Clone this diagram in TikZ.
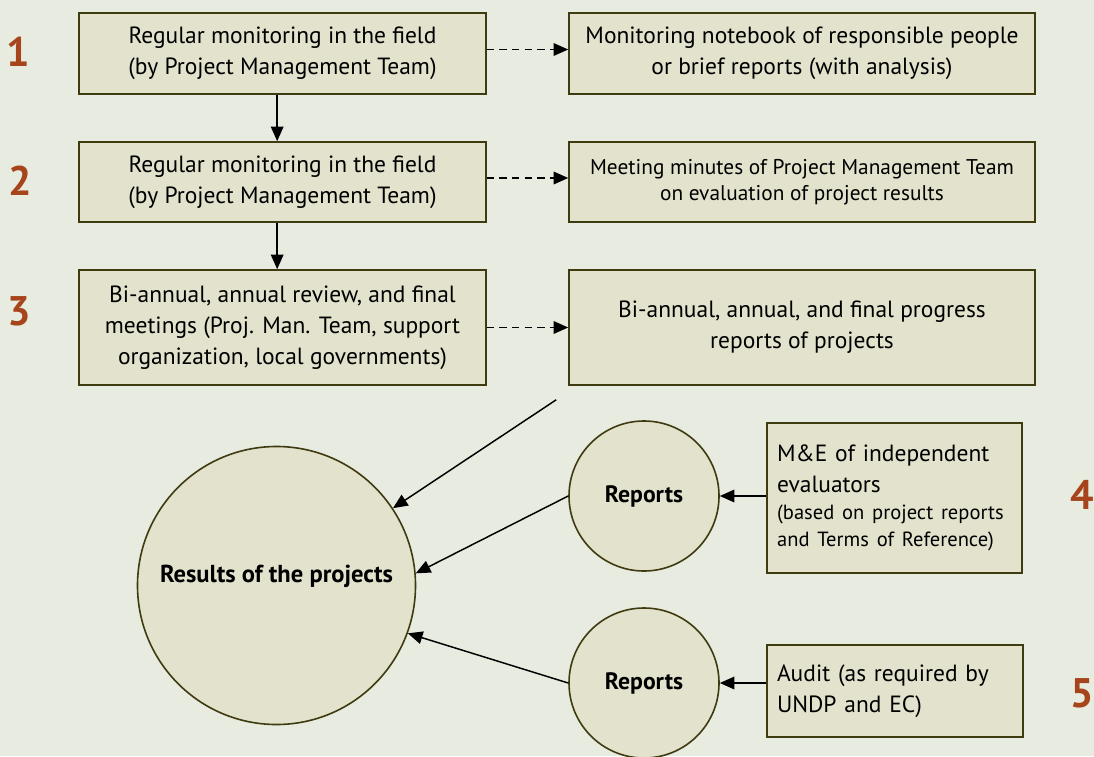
\documentclass[tikz,border=0pt]{standalone}
\usepackage{fontspec}
\setmainfont{PT Sans}
\usetikzlibrary{arrows.meta}
\definecolor{bgcol}{HTML}{E8EBE0}
\definecolor{boxfill}{HTML}{E3E2CC}
\definecolor{boxline}{HTML}{3E3B10}
\definecolor{numcol}{HTML}{A6441B}
\begin{document}
\begin{tikzpicture}[x=0.75pt,y=-0.75pt,line width=1.1pt,>={Triangle[length=11pt,width=9.5pt]},
		font=\fontsize{17.6}{23.25}\selectfont,
		box/.style={draw=boxline,fill=boxfill,line width=1.2pt,inner sep=0pt,align=center},
		lbox/.style={box,minimum width=305.25pt},
		rbox/.style={box,minimum width=349.5pt},
		disc/.style={circle,draw=boxline,fill=boxfill,line width=1.2pt,inner sep=0pt,font=\fontsize{17.8}{23.25}\selectfont\bfseries},
		num/.style={text=numcol,font=\fontsize{31}{31}\selectfont\bfseries}]
		\useasboundingbox (0,0) rectangle (1094,756);
		\fill[bgcol] (0,0) rectangle (1094,756);
		% monitoring steps
		\node[lbox,minimum height=60.75pt] (b1) at (282.5,53.5) {Regular monitoring in the field\\(by Project Management Team)};
		\node[lbox,minimum height=60pt] (b2) at (282.5,182) {Regular monitoring in the field\\(by Project Management Team)};
		\node[lbox,minimum height=86.25pt] (b3) at (282.5,327.5) {Bi-annual, annual review, and final\\meetings (Proj. Man. Team, support\\organization, local governments)};
		% what each step produces
		\node[rbox,minimum height=60.75pt] (r1) at (802,53.5) {Monitoring notebook of responsible people\\or brief reports (with analysis)};
		\node[rbox,minimum height=60pt,font=\fontsize{16}{19.5}\selectfont] (r2) at (802,182) {Meeting minutes of Project Management Team\\on evaluation of project results};
		\node[rbox,minimum height=86.25pt] (r3) at (802,327.5) {Bi-annual, annual, and final progress\\reports of projects};
		% results and outside reports
		\node[disc,minimum size=208.5pt,label={[yshift=7pt,font=\fontsize{18.4}{23.25}\selectfont\bfseries]center:Results of the projects}] (res) at (276.5,585.5) {};
		\node[disc,minimum size=112.5pt] (rep1) at (644,496) {Reports};
		\node[disc,minimum size=112.5pt] (rep2) at (644,683) {Reports};
		\node[box,align=left,text width=176pt,inner xsep=7.5pt,minimum height=112.5pt] (e1) at (894.5,498) {M\&E of independent\\evaluators\par
			{\fontsize{15.4}{20.25}\selectfont(based on project reports\\and Terms of Reference)\par}};
		\node[box,align=left,text width=177pt,inner xsep=7.5pt,minimum height=69pt] (e2) at (895,691) {Audit (as required by\\UNDP and EC)};
		\foreach \n/\x/\y in {1/18/52,2/20/181,3/19/311,4/1082/495,5/1082/693}
		\node[num] (n\n) at (\x,\y) {\n};
		% arrows
		\draw[->] ([xshift=-4pt]b1.south) -- ([xshift=-4pt]b2.north);
		\draw[->] ([xshift=-4pt]b2.south) -- ([xshift=-4pt]b3.north);
		\foreach \i/\s in {1/3pt,2/3pt,3/0pt}
		\draw[->,dash pattern=on 5.5pt off 4pt] ([yshift=\s]b\i.east) -- ([yshift=\s]r\i.west);
		\coordinate (from3) at ([shift={(-9pt,-10.5pt)}]r3.south west);
		\draw[->] (from3) -- (res);
		\draw[->] (rep1.west) -- (res.5);
		\draw[->] (rep2.west) -- (res.-20);
		\draw[->] (e1.west |- rep1.east) -- (rep1.east);
		\draw[->] (e2.west |- rep2.east) -- (rep2.east);
\end{tikzpicture}
\end{document}
